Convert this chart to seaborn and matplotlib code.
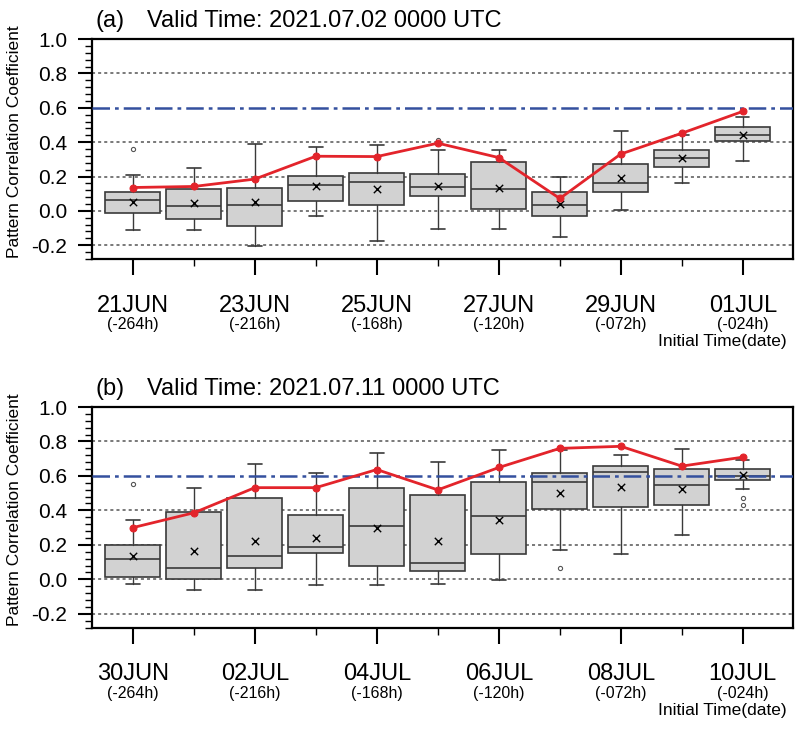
import numpy as np
import pandas as pd
import seaborn as sns
import matplotlib.pyplot as plt
from matplotlib.ticker import MultipleLocator

# ---- data ----
days = list(range(11))

a_q1 = [-0.01, -0.05, -0.09, 0.06, 0.033, 0.086, 0.008, -0.027, 0.109, 0.257, 0.407]
a_med = [0.062, 0.031, 0.035, 0.15, 0.166, 0.14, 0.127, 0.037, 0.164, 0.31, 0.44]
a_q3 = [0.111, 0.127, 0.136, 0.203, 0.22, 0.216, 0.283, 0.107, 0.271, 0.357, 0.489]
a_lo = [-0.113, -0.113, -0.205, -0.029, -0.175, -0.107, -0.103, -0.15, 0.004, 0.164, 0.292]
a_hi = [0.207, 0.25, 0.39, 0.37, 0.384, 0.353, 0.353, 0.2, 0.464, 0.44, 0.546]
a_mean = [0.051, 0.045, 0.054, 0.142, 0.13, 0.146, 0.133, 0.041, 0.191, 0.308, 0.444]
a_red = [0.136, 0.142, 0.185, 0.318, 0.316, 0.394, 0.31, 0.072, 0.331, 0.452, 0.579]
a_out = [[0.36], [], [], [], [], [0.41], [], [], [], [], []]

b_q1 = [0.016, 0.0, 0.066, 0.152, 0.076, 0.047, 0.144, 0.408, 0.422, 0.433, 0.575]
b_med = [0.115, 0.066, 0.137, 0.189, 0.312, 0.097, 0.367, 0.564, 0.622, 0.548, 0.602]
b_q3 = [0.2, 0.39, 0.474, 0.376, 0.53, 0.488, 0.562, 0.616, 0.655, 0.643, 0.64]
b_lo = [-0.027, -0.06, -0.064, -0.031, -0.035, -0.027, -0.002, 0.171, 0.146, 0.258, 0.523]
b_hi = [0.347, 0.532, 0.672, 0.618, 0.735, 0.68, 0.748, 0.75, 0.719, 0.756, 0.69]
b_mean = [0.133, 0.164, 0.222, 0.242, 0.3, 0.222, 0.346, 0.503, 0.538, 0.527, 0.606]
b_red = [0.3, 0.386, 0.532, 0.532, 0.637, 0.519, 0.649, 0.76, 0.772, 0.657, 0.709]
b_out = [[0.554], [], [], [], [], [], [], [0.066], [], [], [0.47, 0.43]]

a_dates = ['21JUN', '23JUN', '25JUN', '27JUN', '29JUN', '01JUL']
b_dates = ['30JUN', '02JUL', '04JUL', '06JUL', '08JUL', '10JUL']
leads = ['(-264h)', '(-216h)', '(-168h)', '(-120h)', '(-072h)', '(-024h)']

sns.set_style('ticks')
plt.rcParams['font.family'] = ['Liberation Sans', 'DejaVu Sans']
plt.rcParams['text.color'] = 'black'
plt.rcParams['axes.labelcolor'] = 'black'
plt.rcParams['xtick.color'] = 'black'
plt.rcParams['ytick.color'] = 'black'

fig = plt.figure(figsize=(8, 7.33), dpi=100)
ax_a = fig.add_axes([0.115, 0.6467, 0.876, 0.300])
ax_b = fig.add_axes([0.115, 0.1439, 0.876, 0.3008])


def draw_panel(ax, q1, med, q3, lo, hi, mean, red, out, dates, tag, title):
    stats = []
    for i in days:
        stats.append(dict(q1=q1[i], med=med[i], q3=q3[i], whislo=lo[i],
                          whishi=hi[i], fliers=out[i], mean=mean[i]))

    for y in [-0.2, 0.0, 0.2, 0.4, 0.8]:
        ax.axhline(y, color='#555555', lw=1.1, ls=(0, (2, 2)), zorder=1)

    ax.bxp(stats, positions=days, widths=0.9, patch_artist=True,
           capwidths=0.22, manage_ticks=False,
           boxprops=dict(facecolor='#d2d2d2', edgecolor='#3a3a3a', lw=1.2),
           medianprops=dict(color='#3a3a3a', lw=1.2),
           whiskerprops=dict(color='#3a3a3a', lw=1.0),
           capprops=dict(color='#3a3a3a', lw=1.2),
           flierprops=dict(marker='o', markersize=3, markerfacecolor='none',
                           markeredgecolor='#555555', markeredgewidth=0.8),
           zorder=2)

    ax.axhline(0.6, color='#34509e', lw=1.8, ls=(0, (7, 2, 1.5, 2)), zorder=3)

    sns.scatterplot(x=days, y=mean, ax=ax, marker='x', color='black',
                    s=28, linewidth=1.0, zorder=4)
    sns.lineplot(x=days, y=red, ax=ax, color='#e3242b', lw=2.0, marker='o',
                 markersize=5, markeredgecolor='#e3242b', zorder=5)

    ax.set_xlim(-0.67, 10.82)
    ax.set_ylim(-0.28, 1.0)

    ax.xaxis.set_major_locator(MultipleLocator(2))
    ax.xaxis.set_minor_locator(MultipleLocator(1))
    ax.yaxis.set_major_locator(MultipleLocator(0.2))
    ax.yaxis.set_minor_locator(MultipleLocator(0.04))
    ax.set_yticks([-0.2, 0.0, 0.2, 0.4, 0.6, 0.8, 1.0])
    ax.set_yticklabels(['-0.2', '0.0', '0.2', '0.4', '0.6', '0.8', '1.0'])
    ax.set_xticklabels([])
    ax.tick_params(axis='x', which='major', length=11.5, width=1.5, direction='out')
    ax.tick_params(axis='x', which='minor', length=5, width=1.0, direction='out')
    ax.tick_params(axis='y', which='major', length=10, width=1.5, direction='out',
                   labelsize=15, pad=8)
    ax.tick_params(axis='y', which='minor', length=5, width=1.0, direction='out')
    ax.tick_params(top=False, right=False, which='both')

    for s in ax.spines.values():
        s.set_linewidth(1.6)
        s.set_color('black')

    for k, (d, h) in enumerate(zip(dates, leads)):
        ax.annotate(d, xy=(2 * k, 0), xycoords=('data', 'axes fraction'),
                    xytext=(0, -38), textcoords='offset points',
                    ha='center', va='baseline', fontsize=17)
        ax.annotate(h, xy=(2 * k, 0), xycoords=('data', 'axes fraction'),
                    xytext=(0, -50.5), textcoords='offset points',
                    ha='center', va='baseline', fontsize=11.5)
    ax.annotate('Initial Time(date)', xy=(0.991, 0), xycoords='axes fraction',
                xytext=(0, -63), textcoords='offset points',
                ha='right', va='baseline', fontsize=12.5)

    ax.annotate(tag, xy=(0, 1), xycoords='axes fraction', xytext=(2.2, 8.6),
                textcoords='offset points', ha='left', va='baseline', fontsize=17)
    ax.annotate(title, xy=(0, 1), xycoords='axes fraction', xytext=(39.6, 8.6),
                textcoords='offset points', ha='left', va='baseline', fontsize=17)

    ax.set_ylabel('Pattern Correlation Coefficient', fontsize=12.5)
    ax.yaxis.set_label_coords(-0.1, 0.535)
    ax.set_xlabel('')


draw_panel(ax_a, a_q1, a_med, a_q3, a_lo, a_hi, a_mean, a_red, a_out,
           a_dates, '(a)', 'Valid Time: 2021.07.02 0000 UTC')
draw_panel(ax_b, b_q1, b_med, b_q3, b_lo, b_hi, b_mean, b_red, b_out,
           b_dates, '(b)', 'Valid Time: 2021.07.11 0000 UTC')

fig.savefig('out.png', dpi=100)
